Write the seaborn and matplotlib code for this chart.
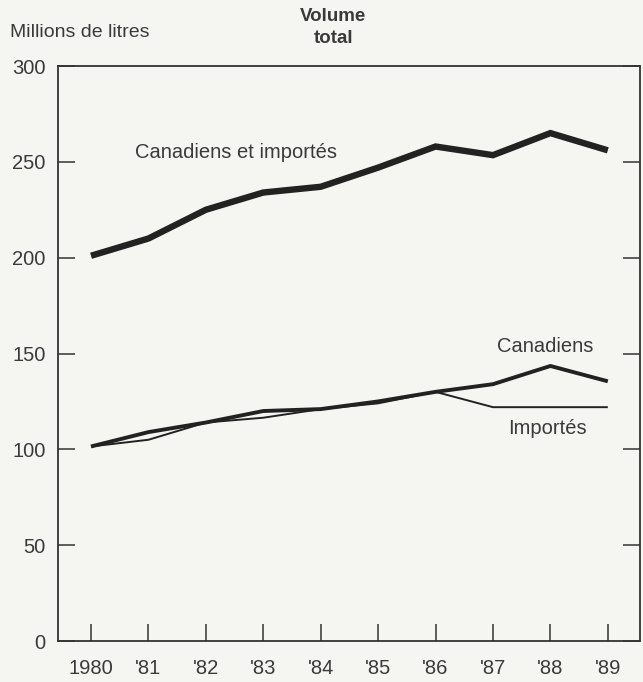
import matplotlib
matplotlib.use("Agg")
import matplotlib.pyplot as plt
import seaborn as sns
import pandas as pd

years = [1980, 1981, 1982, 1983, 1984, 1985, 1986, 1987, 1988, 1989]
year_labels = ["1980", "'81", "'82", "'83", "'84", "'85", "'86", "'87", "'88", "'89"]
total = [201, 210, 225, 234, 237, 247, 258, 253.5, 265, 256]
canadiens = [101.5, 109, 114, 120, 121, 125, 130, 134, 143.5, 135.5]
importes = [101.5, 105, 114, 116.5, 121, 124, 130, 122, 122, 122]

df = pd.DataFrame({"annee": years, "total": total,
                   "canadiens": canadiens, "importes": importes})

sns.set_theme(style="ticks")
plt.rcParams["font.family"] = ["Liberation Sans", "DejaVu Sans"]

bg = "#f5f5f2"
ink = "#222222"
txt = "#3a3a3a"

fig = plt.figure(figsize=(6.43, 6.82), dpi=100, facecolor=bg)
ax = fig.add_axes([0.0902, 0.0601, 0.9051, 0.8431])
ax.set_facecolor(bg)

sns.lineplot(data=df, x="annee", y="total", ax=ax, color=ink, lw=4.6,
             solid_capstyle="butt", solid_joinstyle="miter")
sns.lineplot(data=df, x="annee", y="canadiens", ax=ax, color=ink, lw=2.8,
             solid_capstyle="butt")
sns.lineplot(data=df, x="annee", y="importes", ax=ax, color=ink, lw=1.4,
             solid_capstyle="butt")

ax.set_xlim(1979.425, 1989.56)
ax.set_ylim(0, 300)
ax.set_xticks(years)
ax.set_xticklabels(year_labels)
ax.set_yticks([0, 50, 100, 150, 200, 250, 300])
ax.set_xlabel("")
ax.set_ylabel("")

for s in ax.spines.values():
    s.set_visible(True)
    s.set_color("#333333")
    s.set_linewidth(1.3)

ax.tick_params(axis="x", direction="in", length=12, width=1.1, color="#333333",
               labelsize=14.5, labelcolor=txt, pad=13, top=False)
ax.tick_params(axis="y", direction="in", length=12, width=1.1, color="#333333",
               labelsize=14.5, labelcolor=txt, pad=9, right=True)

ax.text(1980.77, 255, "Canadiens et importés", fontsize=14.5, color=txt,
        ha="left", va="center")
ax.text(1987.07, 153.5, "Canadiens", fontsize=14.5, color=txt,
        ha="left", va="center")
ax.text(1987.26, 111, "Importés", fontsize=14.5, color=txt,
        ha="left", va="center")

fig.text(0.0156, 0.953, "Millions de litres", fontsize=14, color=txt,
         ha="left", va="center")
fig.text(0.518, 0.96, "Volume\ntotal", fontsize=13.5, color=txt,
         fontweight="bold", ha="center", va="center", linespacing=1.35)

fig.savefig("out.png", dpi=100, facecolor=bg)
